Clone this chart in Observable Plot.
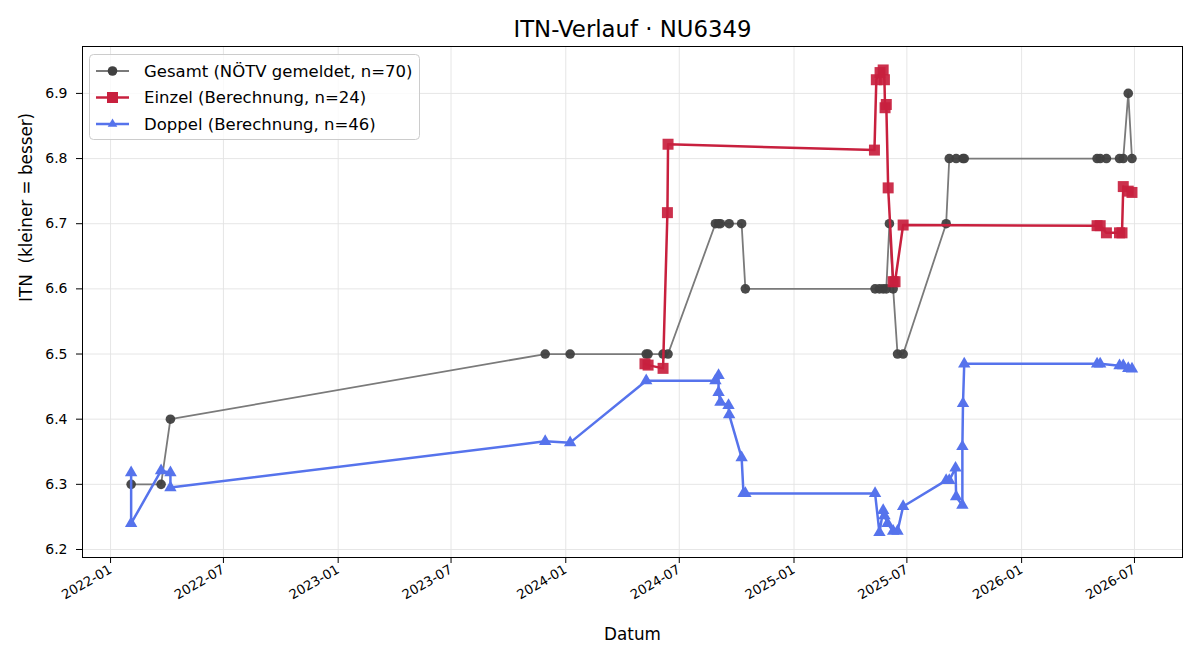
<!DOCTYPE html>
<html><head><meta charset="utf-8">
<script src="https://cdn.jsdelivr.net/npm/d3@7"></script>
<script src="https://cdn.jsdelivr.net/npm/@observablehq/plot@0.6"></script>
<style>
body{margin:0;background:#fff;}
#chart{width:1200px;height:660px;}
</style></head><body><div id="chart"></div>
<script>
const chartTitle = "ITN-Verlauf · NU6349";
const xLabel = "Datum";
const yLabel = "ITN  (kleiner = besser)";
const seriesNames = ["Gesamt (NÖTV gemeldet, n=70)", "Einzel (Berechnung, n=24)", "Doppel (Berechnung, n=46)"];

const gesamtDates = ["2022-02-03","2022-03-23","2022-04-07","2023-11-29","2024-01-08","2024-05-09","2024-05-12","2024-06-05","2024-06-13",
  "2024-08-28","2024-09-02","2024-09-05","2024-09-19","2024-10-09","2024-10-15","2025-05-11","2025-05-18","2025-05-24","2025-05-29",
  "2025-06-03","2025-06-09","2025-06-16","2025-06-25","2025-09-02","2025-09-07","2025-09-18","2025-09-29","2025-10-01",
  "2026-05-02","2026-05-07","2026-05-17","2026-06-07","2026-06-13","2026-06-21","2026-06-27"];
const gesamtValues = [6.3,6.3,6.4,6.5,6.5,6.5,6.5,6.5,6.5,
  6.7,6.7,6.7,6.7,6.7,6.6,6.6,6.6,6.6,6.6,
  6.7,6.6,6.5,6.5,6.7,6.8,6.8,6.8,6.8,
  6.8,6.8,6.8,6.8,6.8,6.9,6.8];

const einzelDates = ["2024-05-07","2024-05-12","2024-06-05","2024-06-12","2024-06-13","2025-05-10","2025-05-13","2025-05-19",
  "2025-05-24","2025-05-26","2025-05-27","2025-05-29","2025-06-01","2025-06-09","2025-06-12","2025-06-25",
  "2026-05-02","2026-05-07","2026-05-17","2026-06-07","2026-06-11","2026-06-13","2026-06-21","2026-06-27"];
const einzelValues = [6.485,6.483,6.478,6.717,6.822,6.813,6.921,6.932,
  6.936,6.921,6.878,6.883,6.755,6.611,6.611,6.698,
  6.697,6.697,6.686,6.686,6.686,6.757,6.750,6.748];

const doppelDates = ["2022-02-03","2022-02-03","2022-03-23","2022-04-07","2022-04-07","2023-11-29","2024-01-08","2024-05-09",
  "2024-08-28","2024-09-02","2024-09-02","2024-09-05","2024-09-18","2024-09-19","2024-10-09","2024-10-12","2024-10-15",
  "2025-05-11","2025-05-18","2025-05-24","2025-05-26","2025-05-31","2025-06-09","2025-06-16","2025-06-25",
  "2025-09-02","2025-09-07","2025-09-17","2025-09-18","2025-09-28","2025-09-28","2025-09-29","2025-10-01",
  "2026-05-02","2026-05-07","2026-06-07","2026-06-13","2026-06-21","2026-06-27"];
const doppelValues = [6.318,6.240,6.321,6.318,6.295,6.366,6.364,6.459,
  6.459,6.467,6.441,6.426,6.421,6.407,6.341,6.286,6.286,
  6.286,6.226,6.260,6.252,6.240,6.228,6.228,6.266,
  6.306,6.306,6.325,6.281,6.268,6.358,6.424,6.485,
  6.485,6.485,6.482,6.482,6.478,6.477];

const xTickLabels = ["2022-01","2022-07","2023-01","2023-07","2024-01","2024-07","2025-01","2025-07","2026-01","2026-07"];
const yTickValues = [6.2,6.3,6.4,6.5,6.6,6.7,6.8,6.9];

const parse = d3.utcParse("%Y-%m-%d");
const rows = (dates, values) => dates.map((d, i) => ({date: parse(d), value: values[i]}));
const gesamt = rows(gesamtDates, gesamtValues);
const einzel = rows(einzelDates, einzelValues);
const doppel = rows(doppelDates, doppelValues);
const xTicks = xTickLabels.map(d3.utcParse("%Y-%m"));

const colGray = "#7a7a7a", colGrayDot = "#404040", colRed = "#c8203e", colBlue = "#5673ec";
const font = "DejaVu Sans, sans-serif";

const plot = Plot.plot({
  width: 1200, height: 660,
  marginLeft: 82, marginRight: 18, marginTop: 46, marginBottom: 103,
  style: {fontFamily: font, fontSize: "14px", color: "black", background: "white"},
  x: {type: "utc", domain: [parse("2021-11-17"), parse("2026-09-16")]},
  y: {domain: [6.1877, 6.972]},
  marks: [
    Plot.gridX(xTicks, {stroke: "#e3e3e3", strokeOpacity: 1, strokeWidth: 0.9}),
    Plot.gridY(yTickValues, {stroke: "#e3e3e3", strokeOpacity: 1, strokeWidth: 0.9}),
    Plot.line(gesamt, {x: "date", y: "value", stroke: colGray, strokeWidth: 1.8}),
    Plot.dot(gesamt, {x: "date", y: "value", r: 4.8, fill: colGrayDot, fillOpacity: 0.95, symbol: "circle"}),
    Plot.line(einzel, {x: "date", y: "value", stroke: colRed, strokeWidth: 2.5}),
    Plot.dot(einzel, {x: "date", y: "value", r: 6.2, fill: colRed, fillOpacity: 0.92, symbol: "square"}),
    Plot.line(doppel, {x: "date", y: "value", stroke: colBlue, strokeWidth: 2.5}),
    Plot.dot(doppel, {x: "date", y: "value", r: 4.6, fill: colBlue, symbol: "triangle"}),
    Plot.frame({stroke: "black", strokeWidth: 1}),
    Plot.axisX(xTicks, {tickFormat: d3.utcFormat("%Y-%m"), tickRotate: -30, tickSize: 6, tickPadding: 5, label: null, fontSize: 13.2}),
    Plot.axisY(yTickValues, {tickFormat: d3.format(".1f"), tickSize: 6, tickPadding: 9, label: null, fontSize: 14}),
    Plot.text([chartTitle], {frameAnchor: "top", dy: -10, lineAnchor: "bottom", fontSize: 22.8, fill: "black"}),
    Plot.text([xLabel], {frameAnchor: "bottom", dy: 82, lineAnchor: "bottom", fontSize: 16.8, fill: "black"}),
    Plot.text([yLabel], {frameAnchor: "left", dx: -56, rotate: -90, lineAnchor: "middle", fontSize: 16.8, fill: "black"})
  ]
});
document.getElementById("chart").append(plot);

// legend
const svg = d3.select(plot);
const lg = svg.append("g").attr("font-family", font).attr("font-size", 16.5).attr("text-anchor", "start");
lg.append("rect").attr("x", 89.5).attr("y", 54.5).attr("width", 330).attr("height", 85).attr("rx", 4)
  .attr("fill", "white").attr("fill-opacity", 0.8).attr("stroke", "#cccccc");
const legendStyle = [
  {stroke: colGray, width: 1.8, fill: colGrayDot, sym: d3.symbolCircle, size: Math.PI * 4.8 * 4.8},
  {stroke: colRed, width: 2.5, fill: colRed, sym: d3.symbolSquare, size: Math.PI * 6.2 * 6.2},
  {stroke: colBlue, width: 2.5, fill: colBlue, sym: d3.symbolTriangle2, size: Math.PI * 4.6 * 4.6}
];
seriesNames.forEach((name, i) => {
  const y = 71 + i * 26.5;
  const s = legendStyle[i];
  lg.append("line").attr("x1", 96).attr("x2", 129).attr("y1", y).attr("y2", y).attr("stroke", s.stroke).attr("stroke-width", s.width);
  lg.append("path").attr("d", d3.symbol(s.sym, s.size)()).attr("transform", `translate(112.5,${y})`).attr("fill", s.fill);
  lg.append("text").attr("x", 144).attr("y", y).attr("dy", "0.35em").attr("text-anchor", "start").attr("fill", "black").text(name);
});
</script></body></html>
